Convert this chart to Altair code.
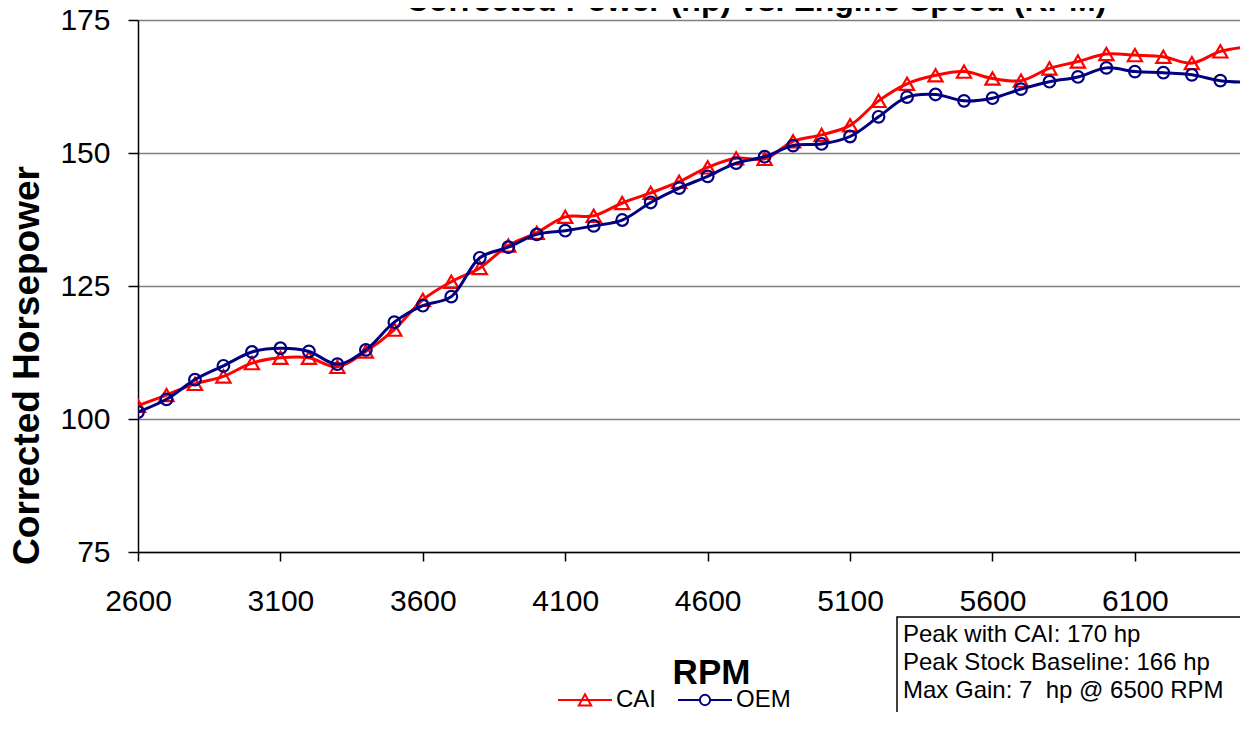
import altair as alt
import pandas as pd

# ---- data ----
rpm = list(range(2600, 6600, 100))
cai_hp = [102.5, 104.5, 106.6, 108.0, 110.5, 111.5, 111.5, 109.8, 112.7, 116.8,
          122.4, 125.8, 128.4, 132.6, 135.0, 138.0, 138.2, 140.6, 142.5, 144.6,
          147.3, 149.0, 148.9, 152.2, 153.4, 155.2, 159.8, 163.0, 164.6, 165.3,
          164.0, 163.6, 165.9, 167.2, 168.6, 168.4, 168.1, 166.9, 169.1, 170.0]
oem_hp = [101.3, 103.7, 107.4, 110.0, 112.6, 113.3, 112.7, 110.3, 113.0, 118.2,
          121.3, 123.0, 130.3, 132.3, 134.7, 135.4, 136.3, 137.4, 140.7, 143.4,
          145.6, 148.1, 149.3, 151.4, 151.7, 153.1, 156.8, 160.5, 161.0, 159.8,
          160.3, 162.0, 163.4, 164.3, 166.0, 165.3, 165.1, 164.7, 163.6, 163.3]
series_names = ["CAI", "OEM"]
series_colors = ["#FF0000", "#000080"]
x_ticks = [2600, 3100, 3600, 4100, 4600, 5100, 5600, 6100]
y_ticks = [75, 100, 125, 150, 175]
title_text = "Corrected Power (hp) vs. Engine Speed (RPM)"
box_lines = ["Peak with CAI: 170 hp",
             "Peak Stock Baseline: 166 hp",
             "Max Gain: 7 \u00a0hp @ 6500 RPM"]

FONT = "Liberation Sans"

df = pd.DataFrame({
    "rpm": rpm * 2,
    "hp": cai_hp + oem_hp,
    "series": ["CAI"] * len(rpm) + ["OEM"] * len(rpm),
})

x_enc = alt.X("rpm:Q",
              scale=alt.Scale(domain=[2600, 6469], nice=False, zero=False),
              axis=alt.Axis(values=x_ticks, format="d", grid=False,
                            labelFontSize=30, labelFont=FONT, labelColor="black",
                            labelPadding=25, tickSize=9, tickColor="black",
                            tickWidth=1.5, domainColor="black", domainWidth=1.5,
                            title="RPM", titleFont=FONT, titleFontSize=35,
                            titleFontWeight="bold", titleColor="black",
                            titleX=573, titleY=131, titleBaseline="alphabetic",
                            titleAlign="center", labelFlush=False))
y_enc = alt.Y("hp:Q",
              scale=alt.Scale(domain=[75, 175], nice=False, zero=False),
              axis=alt.Axis(values=y_ticks, grid=True, gridColor="#808080",
                            gridWidth=1.5, labelFontSize=30, labelFont=FONT,
                            labelColor="black", labelPadding=18, tickSize=10,
                            tickColor="black", tickWidth=1.5, domainColor="black",
                            domainWidth=1.5, title="Corrected Horsepower",
                            titleFont=FONT, titleFontSize=37, titleFontWeight="bold",
                            titleColor="black", titleAngle=270, titleX=-100,
                            titleY=345, titleAlign="center",
                            titleBaseline="alphabetic"))

base = alt.Chart(df)

layers = []
shapes = {"CAI": "triangle-up", "OEM": "circle"}
sizes = {"CAI": 200, "OEM": 135}
for name, col in zip(series_names, series_colors):
    sub = base.transform_filter(alt.datum.series == name)
    layers.append(sub.mark_line(interpolate="catmull-rom", strokeWidth=3, clip=True,
                                color=col)
                  .encode(x=x_enc, y=y_enc))
    layers.append(sub.mark_point(shape=shapes[name], size=sizes[name], filled=False,
                                 strokeWidth=2.2, opacity=1, clip=True, color=col)
                  .encode(x=x_enc, y=y_enc))

tri_path = "M-1,0H1M0,-0.21L0.23,0.2L-0.23,0.2Z"
circ_path = ("M-1,0H-0.19M0.19,0H1M0.19,0A0.19,0.19,0,1,1,-0.19,0"
             "A0.19,0.19,0,1,1,0.19,0Z")
legend_kw = dict(title=None, orient="none", legendX=419, legendY=652,
                 direction="horizontal", labelFont=FONT, labelFontSize=24,
                 labelColor="black", labelOffset=3, columnPadding=17,
                 symbolSize=2916, symbolStrokeWidth=2, symbolOpacity=1,
                 symbolFillColor="transparent", padding=0)
color_scale = alt.Scale(domain=series_names, range=series_colors)
legend_layer = (base.transform_filter("false")
                .mark_point(filled=False, strokeWidth=2, opacity=1)
                .encode(x=x_enc, y=y_enc,
                        color=alt.Color("series:N", scale=color_scale,
                                        legend=alt.Legend(**legend_kw)),
                        shape=alt.Shape("series:N",
                                        scale=alt.Scale(domain=series_names,
                                                        range=[tri_path, circ_path]),
                                        legend=alt.Legend(**legend_kw))))

one = alt.Chart(pd.DataFrame({"k": [0]}))
title_mark = one.mark_text(text=title_text, font=FONT, fontSize=32, fontWeight="bold",
                           align="center", baseline="alphabetic", color="black").encode(
    x=alt.value(618), y=alt.value(-9))
box = one.mark_rect(fillOpacity=0, stroke="black", strokeWidth=1.5).encode(
    x=alt.value(759), x2=alt.value(1300), y=alt.value(597), y2=alt.value(800))
box_text = one.mark_text(text=box_lines, font=FONT, fontSize=24, align="left",
                         baseline="alphabetic", lineHeight=28, color="black").encode(
    x=alt.value(765), y=alt.value(622))

chart = alt.layer(*layers, legend_layer, box, box_text, title_mark).properties(
    width=1102, height=532,
    autosize=alt.AutoSizeParams(type="none"),
    padding={"left": 130, "top": 12, "right": 0, "bottom": 160},
    background="white",
).configure_view(stroke=None)

chart.save("out.html", embed_options={"renderer": "svg", "actions": False})
